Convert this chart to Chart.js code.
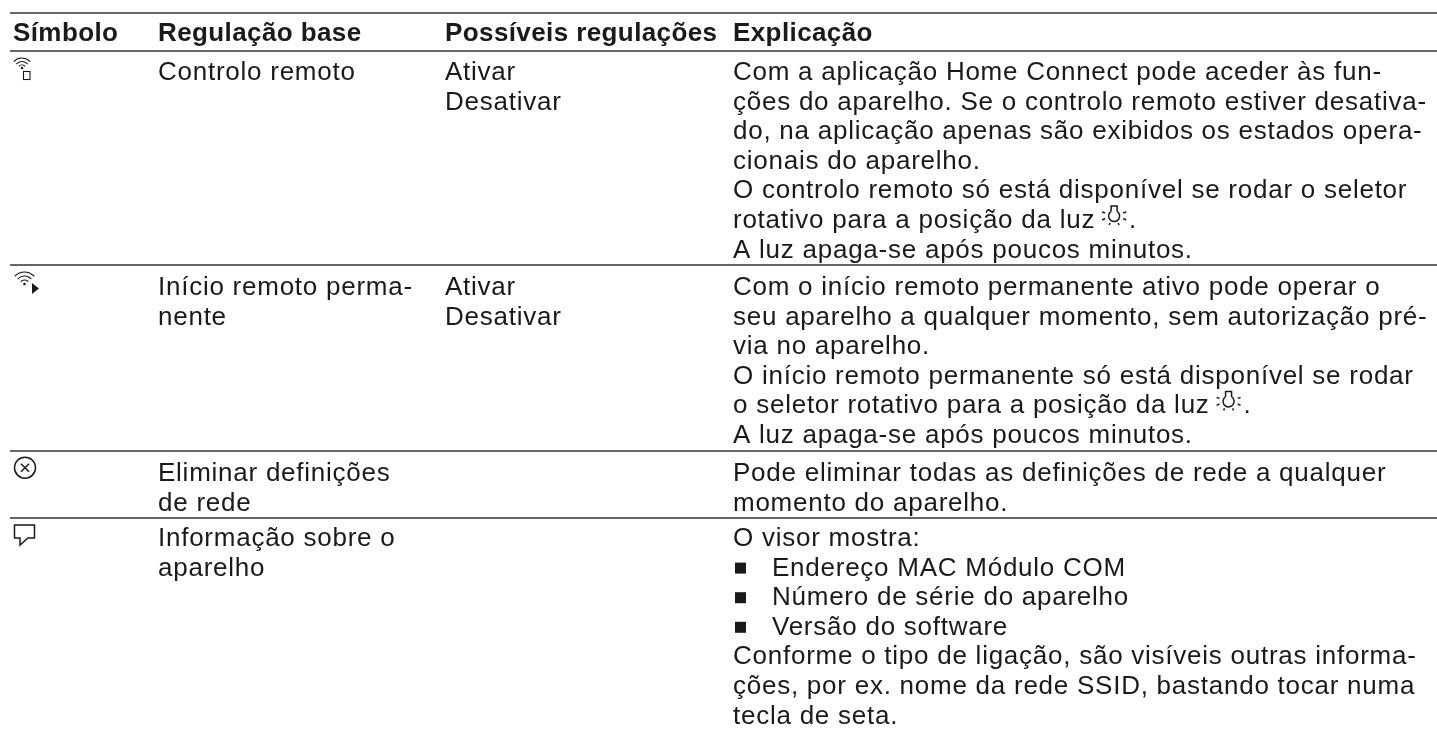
<!DOCTYPE html>
<html>
<head>
<meta charset="utf-8">
<style>
  html, body { margin: 0; padding: 0; background: #fff; }
  #tabela { display: block; }
</style>
<script src="https://cdn.jsdelivr.net/npm/chart.js@4"></script>
</head>
<body>
<canvas id="tabela" width="1437" height="731"></canvas>
<script>
const headers = ["Símbolo", "Regulação base", "Possíveis regulações", "Explicação"];
const symbols = ["remote", "start", "delete", "info"];
const settings = [
  ["Controlo remoto"],
  ["Início remoto perma-", "nente"],
  ["Eliminar definições", "de rede"],
  ["Informação sobre o", "aparelho"]
];
const choices = [
  ["Ativar", "Desativar"],
  ["Ativar", "Desativar"],
  [],
  []
];
const explanations = [
  ["Com a aplicação Home Connect pode aceder às fun-",
   "ções do aparelho. Se o controlo remoto estiver desativa-",
   "do, na aplicação apenas são exibidos os estados opera-",
   "cionais do aparelho.",
   "O controlo remoto só está disponível se rodar o seletor",
   "rotativo para a posição da luz ",
   "A luz apaga-se após poucos minutos."],
  ["Com o início remoto permanente ativo pode operar o",
   "seu aparelho a qualquer momento, sem autorização pré-",
   "via no aparelho.",
   "O início remoto permanente só está disponível se rodar",
   "o seletor rotativo para a posição da luz ",
   "A luz apaga-se após poucos minutos."],
  ["Pode eliminar todas as definições de rede a qualquer",
   "momento do aparelho."],
  ["O visor mostra:",
   "• Endereço MAC Módulo COM",
   "• Número de série do aparelho",
   "• Versão do software",
   "Conforme o tipo de ligação, são visíveis outras informa-",
   "ções, por ex. nome da rede SSID, bastando tocar numa",
   "tecla de seta."]
];

// layout of the page, in scale units (1 unit = 1px)
const colX = [13, 158, 445, 733];
const bulletTextX = 772;
const ruleY = [13, 51, 265, 451, 518];
const firstBase = [80, 295, 481, 546];
const headerBase = 41;
const pitch = 29.6;
const FONT = '"Liberation Sans", Arial, sans-serif';

function wave(ctx, x, y, radii) {
  radii.forEach(r => {
    ctx.beginPath();
    ctx.arc(x, y, r, -Math.PI * 0.77, -Math.PI * 0.23);
    ctx.stroke();
  });
  ctx.beginPath();
  ctx.arc(x, y - 1, 1.3, 0, Math.PI * 2);
  ctx.fill();
}

function sun(ctx, x, y) {
  ctx.save();
  ctx.lineWidth = 1.5;
  ctx.strokeStyle = "#1a1a1a";
  ctx.beginPath();
  ctx.arc(x, y, 5.5, -Math.PI * 0.3, Math.PI * 1.3);
  ctx.moveTo(x - 3, y - 4.5); ctx.lineTo(x - 3, y - 10);
  ctx.lineTo(x + 3, y - 10); ctx.lineTo(x + 3, y - 4.5);
  [[-12, -4, -9, -3], [-12, 4, -9, 2.5], [-5, 9, -4, 7], [5, 9, 4, 7], [12, 4, 9, 2.5], [12, -4, 9, -3]]
    .forEach(p => { ctx.moveTo(x + p[0], y + p[1]); ctx.lineTo(x + p[2], y + p[3]); });
  ctx.stroke();
  ctx.restore();
}

function drawSymbol(ctx, name, top) {
  ctx.save();
  ctx.strokeStyle = "#1a1a1a";
  ctx.fillStyle = "#1a1a1a";
  ctx.lineWidth = 1.1;
  if (name === "remote") {
    wave(ctx, 22, top + 18, [4, 7.5, 11]);
    ctx.strokeRect(23.5, top + 20.5, 6.5, 8);
  } else if (name === "start") {
    wave(ctx, 24.5, top + 20, [5, 9, 13]);
    ctx.beginPath();
    ctx.moveTo(32, top + 18);
    ctx.lineTo(39, top + 23.5);
    ctx.lineTo(32, top + 29);
    ctx.closePath();
    ctx.fill();
  } else if (name === "delete") {
    ctx.lineWidth = 1.5;
    ctx.beginPath();
    ctx.arc(25, top + 16.7, 10.5, 0, Math.PI * 2);
    ctx.moveTo(21, top + 12.7); ctx.lineTo(29, top + 20.7);
    ctx.moveTo(29, top + 12.7); ctx.lineTo(21, top + 20.7);
    ctx.stroke();
  } else {
    ctx.lineWidth = 1.5;
    ctx.beginPath();
    ctx.moveTo(14.5, top + 7); ctx.lineTo(34.5, top + 7);
    ctx.lineTo(34.5, top + 20); ctx.lineTo(28, top + 20);
    ctx.lineTo(20, top + 27); ctx.lineTo(20, top + 20);
    ctx.lineTo(14.5, top + 20); ctx.closePath();
    ctx.stroke();
  }
  ctx.restore();
}

const tablePlugin = {
  id: "tablePlugin",
  afterDatasetsDraw(chart) {
    const ctx = chart.ctx;
    const xs = chart.scales.x, ys = chart.scales.y;
    const put = (t, x, y) => ctx.fillText(t, xs.getPixelForValue(x), ys.getPixelForValue(y));
    ctx.save();
    ctx.textBaseline = "alphabetic";
    ctx.fillStyle = "#1a1a1a";

    ctx.font = "bold 26px " + FONT;
    ctx.letterSpacing = "0.4px";
    headers.forEach((h, i) => put(h, colX[i], headerBase));

    ctx.font = "26px " + FONT;
    ctx.letterSpacing = "0.75px";
    symbols.forEach((s, r) => {
      drawSymbol(ctx, s, ruleY[r + 1]);
      settings[r].forEach((t, i) => put(t, colX[1], firstBase[r] + i * pitch));
      choices[r].forEach((t, i) => put(t, colX[2], firstBase[r] + i * pitch));
      explanations[r].forEach((t, i) => {
        const y = firstBase[r] + i * pitch;
        if (t.startsWith("• ")) {
          ctx.fillRect(colX[3] + 2, y - 13, 11, 11);
          put(t.slice(2), bulletTextX, y);
        } else {
          put(t, colX[3], y);
          if (t.endsWith("da luz ")) {
            const end = colX[3] + ctx.measureText(t).width;
            sun(ctx, end + 11, y - 12);
            put(".", end + 26, y);
          }
        }
      });
    });
    ctx.restore();
  }
};

new Chart(document.getElementById("tabela").getContext("2d"), {
  type: "scatter",
  data: {
    datasets: ruleY.map(y => ({
      showLine: true,
      data: [{ x: 10, y: y }, { x: 1437, y: y }],
      borderColor: "#333",
      borderWidth: 1.5,
      pointRadius: 0
    }))
  },
  options: {
    responsive: false,
    animation: false,
    layout: { padding: 0 },
    plugins: { legend: { display: false }, tooltip: { enabled: false } },
    scales: {
      x: { type: "linear", min: 0, max: 1437, display: false },
      y: { type: "linear", min: 0, max: 731, reverse: true, display: false }
    }
  },
  plugins: [tablePlugin]
});
</script>
</body>
</html>
